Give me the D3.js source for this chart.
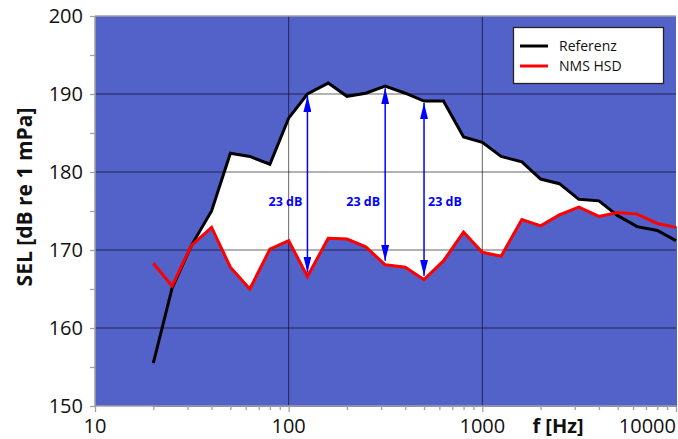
<!DOCTYPE html>
<html><head><meta charset="utf-8">
<script src="https://cdn.jsdelivr.net/npm/d3@7"></script>
<style>body{margin:0;background:#fff}svg{display:block}</style>
</head><body>
<svg id="c" width="678" height="439"></svg>
<script>
const freqs = [20,25,31.5,40,50,63,80,100,125,160,200,250,315,400,500,630,800,1000,1250,1600,2000,2500,3150,4000,5000,6300,8000,10000];
const referenz = [155.5,165.1,170.6,175.0,182.4,182.0,181.0,186.9,190.0,191.4,189.7,190.1,191.0,190.1,189.1,189.1,184.5,183.8,182.0,181.3,179.1,178.5,176.5,176.3,174.4,173.0,172.5,171.2];
const nmsHsd = [168.3,165.4,170.6,172.9,167.8,165.0,170.1,171.2,166.6,171.5,171.4,170.4,168.1,167.8,166.2,168.6,172.3,169.7,169.2,173.9,173.1,174.5,175.5,174.3,174.8,174.6,173.4,172.9];
const xTicks = [10,100,1000,10000];
const yTicks = [150,160,170,180,190,200];
const arrowFreqs = [125,315,500];
const arrowLabels = ["23 dB","23 dB","23 dB"];
const seriesNames = ["Referenz","NMS HSD"];

const svg = d3.select("#c");
const L=95,R=676,T=16,B=406;
const x = d3.scaleLog().domain([10,10000]).range([L,R]);
const y = d3.scaleLinear().domain([150,200]).range([B,T]);
const blue="#5262c8";
const font="'Open Sans', sans-serif";

svg.append("rect").attr("x",L).attr("y",T).attr("width",R-L).attr("height",B-T).attr("fill",blue);

const area = d3.area().x((d,i)=>x(freqs[i])).y0(B);
svg.append("path").datum(referenz).attr("fill","#fff").attr("d",area.y1(d=>y(d)));
svg.append("path").datum(nmsHsd).attr("fill",blue).attr("stroke",blue).attr("stroke-width",2).attr("d",area.y1(d=>y(d)));

// grid
const g = svg.append("g");
[160,170,180,190].forEach(v=>g.append("line").attr("x1",L).attr("x2",R).attr("y1",y(v)).attr("y2",y(v)).attr("stroke","rgba(0,0,0,0.6)").attr("stroke-width",1));
[100,1000].forEach(v=>g.append("line").attr("x1",x(v)).attr("x2",x(v)).attr("y1",T).attr("y2",B).attr("stroke","rgba(0,0,0,0.6)").attr("stroke-width",1));

// axes
const axisCol="#a0a0a0";
const yAxis = svg.append("g").attr("transform",`translate(${L},0)`)
  .call(d3.axisLeft(y).tickValues(d3.range(150,201,5)).tickSize(5).tickFormat(""));
yAxis.select(".domain").remove();
yAxis.selectAll("line").attr("stroke",axisCol).attr("stroke-width",1.3);
svg.append("line").attr("x1",L).attr("x2",L).attr("y1",T).attr("y2",B).attr("stroke",axisCol).attr("stroke-width",1.5);
svg.append("line").attr("x1",L).attr("x2",R).attr("y1",T).attr("y2",T).attr("stroke",axisCol).attr("stroke-width",1.5);
svg.append("line").attr("x1",L).attr("x2",R).attr("y1",B).attr("y2",B).attr("stroke",axisCol).attr("stroke-width",1.5);

const minor = [];
for (let d=10; d<10000; d*=10) for (let k=2;k<=9;k++) minor.push(d*k);
const xAxisMinor = svg.append("g").attr("transform",`translate(0,${B})`)
  .call(d3.axisBottom(x).tickValues(minor).tickSize(4).tickFormat(""));
xAxisMinor.select(".domain").remove();
xAxisMinor.selectAll("line").attr("stroke",axisCol).attr("stroke-width",1.3);
const xAxisMajor = svg.append("g").attr("transform",`translate(0,${B})`)
  .call(d3.axisBottom(x).tickValues(xTicks).tickSize(6).tickFormat(""));
xAxisMajor.select(".domain").remove();
xAxisMajor.selectAll("line").attr("stroke",axisCol).attr("stroke-width",1.3);

// tick labels
yTicks.forEach(v=>svg.append("text").attr("x",83).attr("y",y(v)+7).attr("text-anchor","end")
  .attr("font-family",font).attr("font-size",20).attr("fill","#111").text(v));
xTicks.forEach((v,i)=>{
  const last = i===xTicks.length-1;
  svg.append("text").attr("x",last?R:x(v)).attr("y",433).attr("text-anchor",last?"end":"middle")
   .attr("font-family",font).attr("font-size",20).attr("fill","#111").text(v);
});
svg.append("text").attr("x",558).attr("y",433).attr("text-anchor","middle").attr("font-family",font)
  .attr("font-weight","bold").attr("font-size",20).attr("fill","#111").text("f [Hz]");
svg.append("text").attr("transform","translate(32,197) rotate(-90)").attr("text-anchor","middle")
  .attr("font-family",font).attr("font-weight","bold").attr("font-size",21).attr("fill","#111").text("SEL [dB re 1 mPa]");

// lines
const line = d3.line().x((d,i)=>x(freqs[i])).y(d=>y(d));
svg.append("path").datum(referenz).attr("fill","none").attr("stroke","#000").attr("stroke-width",3).attr("stroke-linejoin","miter").attr("d",line);
svg.append("path").datum(nmsHsd).attr("fill","none").attr("stroke","#ff0000").attr("stroke-width",3).attr("stroke-linejoin","miter").attr("d",line);

// arrows
const defs = svg.append("defs");
defs.append("marker").attr("id","ah").attr("viewBox","0 0 16 8").attr("refX",16).attr("refY",4)
  .attr("markerWidth",16).attr("markerHeight",8).attr("markerUnits","userSpaceOnUse").attr("orient","auto-start-reverse")
  .append("path").attr("d","M0,0 L16,4 L0,8 Z").attr("fill","#0000ff");
arrowFreqs.forEach((f,k)=>{
  const i = freqs.indexOf(f);
  const xa = x(f);
  svg.append("line").attr("x1",xa).attr("x2",xa).attr("y1",y(nmsHsd[i])-4).attr("y2",y(referenz[i])+2)
    .attr("stroke","#0000ff").attr("stroke-width",1.5).attr("marker-start","url(#ah)").attr("marker-end","url(#ah)");
  const right = k===arrowFreqs.length-1;
  svg.append("text").attr("x",right?xa+4:xa-5).attr("y",206).attr("text-anchor",right?"start":"end")
    .attr("font-family",font).attr("font-weight","bold").attr("font-size",12.5).attr("fill","#0000ff").text(arrowLabels[k]);
});

// legend
const lg = svg.append("g");
lg.append("rect").attr("x",513.5).attr("y",27.5).attr("width",150).attr("height",56).attr("fill","#fff").attr("stroke","#222").attr("stroke-width",1.3);
const cols=["#000","#ff0000"];
seriesNames.forEach((n,i)=>{
  const yy = 46+i*20;
  lg.append("line").attr("x1",520).attr("x2",548).attr("y1",yy).attr("y2",yy).attr("stroke",cols[i]).attr("stroke-width",3);
  lg.append("text").attr("x",559).attr("y",yy+5).attr("font-family",font).attr("font-size",14).attr("fill","#111").text(n);
});
</script>
</body></html>
